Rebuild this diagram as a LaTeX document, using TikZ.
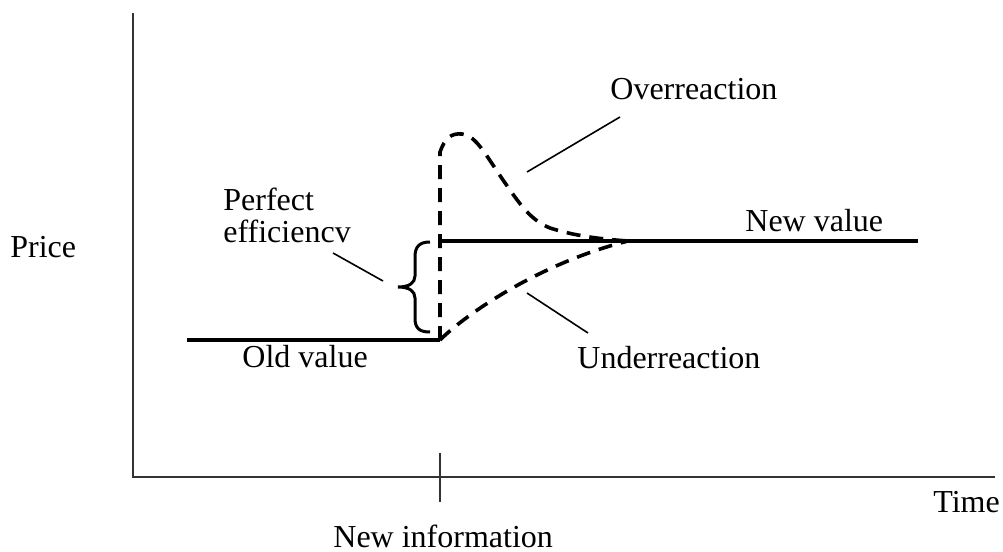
\documentclass[tikz,border=0pt]{standalone}
\usepackage{fontspec}
\setmainfont{Liberation Serif}
\begin{document}
\begin{tikzpicture}[x=0.5pt,y=-0.5pt,
  axis/.style={line width=1pt,draw=black!80},
  valueline/.style={line width=1.7pt},
  reaction/.style={line width=1.8pt,dash pattern=on 7pt off 4.5pt},
  pointer/.style={line width=0.8pt},
  lbl/.style={inner sep=0pt,anchor=base west,font=\fontsize{16}{16}\selectfont}]
\useasboundingbox (0,0) rectangle (1003,552);

% axes and event tick
\coordinate (origin) at (133,477);
\coordinate (ytop) at (133,13);
\coordinate (xend) at (995,477);
\coordinate (ticktop) at (440,453);
\coordinate (tickbot) at (440,502);
\draw[axis] (ytop) -- (origin) -- (xend);
\draw[axis] (ticktop) -- (tickbot);

% price levels before and after the news
\coordinate (oldstart) at (187,340);
\coordinate (jump) at (440,340);
\coordinate (newlevel) at (442,241);
\coordinate (newend) at (918,241);
\coordinate (meet) at (628,241);
\coordinate (peakbase) at (440,152);
\draw[valueline] (oldstart) -- (jump);
\draw[valueline] (newlevel) -- (newend);

% overreaction: overshoot and decay
\draw[reaction] (jump) -- (peakbase)
  .. controls (445,138) and (451,133) .. (462,134)
  .. controls (476,135) and (487,157) .. (503,180)
  .. controls (519,203) and (530,220) .. (550,228)
  .. controls (575,236) and (600,239) .. (meet);

% underreaction: gradual adjustment
\draw[reaction] (jump) .. controls (466,314) and (540,263) .. (meet);

% brace marking the instant adjustment
\draw[line width=1.5pt] (430,242) .. controls (419,242) and (415,247) .. (415,257)
  -- (415,276) .. controls (415,283) and (409,287) .. (398,287)
  .. controls (409,287) and (415,291) .. (415,298)
  -- (415,318) .. controls (415,328) and (419,332) .. (430,332);

% labels
\node[lbl] (price) at (10,257) {Price};
\node[lbl] (perf1) at (223,210) {Perfect};
\node[lbl] (perf2) at (223,242) {efficiencv};
\node[lbl] (over) at (610,99) {Overreaction};
\node[lbl] (newval) at (745,231) {New value};
\node[lbl] (oldval) at (242,367) {Old value};
\node[lbl] (under) at (577,368) {Underreaction};
\node[lbl] (newinfo) at (333,547) {New information};
\node[lbl] (time) at (933,512) {Time};

% leader lines
\coordinate (pe1) at (333,253);
\coordinate (pe2) at (383,281);
\coordinate (ov1) at (620,117);
\coordinate (ov2) at (527,172);
\coordinate (un1) at (527,293);
\coordinate (un2) at (588,333);
\draw[pointer] (pe1) -- (pe2);
\draw[pointer] (ov1) -- (ov2);
\draw[pointer] (un1) -- (un2);
\end{tikzpicture}
\end{document}
